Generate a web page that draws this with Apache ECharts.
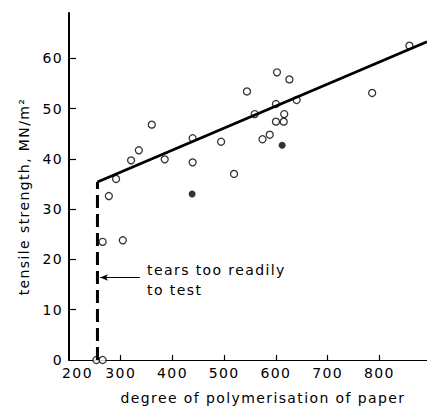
<!DOCTYPE html>
<html>
<head>
<meta charset="utf-8">
<script src="https://cdn.jsdelivr.net/npm/echarts@6/dist/echarts.min.js"></script>
<style>
  html, body { margin: 0; padding: 0; background: #fff; }
  #chart { width: 427px; height: 406px; }
  /* typewriter-like spacing of the original lettering */
  #chart text { letter-spacing: 1.4px; }
</style>
</head>
<body>
<div id="chart"></div>
<script>
// open circles: degree of polymerisation / tensile strength (MN/m2)
const degree = [253, 265, 265, 304, 277, 291, 320, 335, 360, 385, 439, 439, 494, 519, 544,
  559, 574, 588, 602, 600, 600, 615, 616, 626, 640, 786, 858]
const strength = [0, 0, 23.5, 23.8, 32.6, 36.0, 39.7, 41.7, 46.8, 39.9, 44.1, 39.3, 43.4, 37.0, 53.4,
  48.9, 43.9, 44.8, 57.2, 50.9, 47.4, 47.4, 48.9, 55.8, 51.7, 53.1, 62.5]

// filled circles
const filledDegree = [438, 612]
const filledStrength = [33.0, 42.7]

// fitted line: vertical drop (dashed) then rising straight line
const fitX = [255, 255, 892]
const fitY = [0, 35.4, 63.3]

// annotation arrow
const arrowX = [337, 260]
const arrowY = 16.4
const noteX = 351
const noteY = 15.9
const noteText = 'tears too readily\nto test'

const xTicks = [300, 400, 500, 600, 700, 800]
const xLabels = [200, 300, 400, 500, 600, 700, 800]
const yTicks = [10, 20, 30, 40, 50, 60]
const yLabels = [0, 10, 20, 30, 40, 50, 60]

const font = 'DejaVu Sans'
const ink = '#000'

const pairs = (xs, ys) => xs.map((x, i) => [x, ys[i]])

const chart = echarts.init(document.getElementById('chart'), null, { renderer: 'svg' })

chart.setOption({
  animation: false,
  backgroundColor: '#fff',
  textStyle: { fontFamily: font, color: ink },
  grid: { left: 69, right: 0, top: 13, bottom: 46, outerBoundsMode: 'none', containLabel: false },
  xAxis: {
    type: 'value',
    min: 200,
    max: 892,
    name: 'degree of polymerisation of paper',
    nameLocation: 'middle',
    nameGap: 31,
    nameTextStyle: { fontSize: 14, color: ink, fontFamily: font, padding: [0, 0, 0, 30] },
    axisLine: { show: true, lineStyle: { color: ink, width: 1.2 } },
    axisTick: { show: true, inside: true, length: 5, customValues: xTicks, lineStyle: { color: ink, width: 1.2 } },
    axisLabel: {
      customValues: xLabels,
      margin: 6,
      fontSize: 14,
      color: ink,
      fontFamily: font,
      formatter: v => (v === 200 ? '{first|200}' : String(v)),
      rich: { first: { fontSize: 14, fontFamily: font, color: ink, padding: [0, 0, 0, 17] } }
    },
    splitLine: { show: false }
  },
  yAxis: {
    type: 'value',
    min: 0,
    max: 69,
    name: 'tensile strength, MN/m\u00b2',
    nameLocation: 'middle',
    nameGap: 38,
    nameTextStyle: { fontSize: 14, color: ink, fontFamily: font, padding: [0, 20, 0, 0] },
    axisLine: { show: true, lineStyle: { color: ink, width: 2 } },
    axisTick: { show: true, inside: true, length: 7, customValues: yTicks, lineStyle: { color: ink, width: 1.2 } },
    axisLabel: { customValues: yLabels, margin: 6, fontSize: 14, color: ink, fontFamily: font },
    splitLine: { show: false }
  },
  series: [
    {
      type: 'line',
      data: pairs(fitX.slice(0, 2), fitY.slice(0, 2)),
      symbol: 'none',
      lineStyle: { color: ink, width: 3, type: [13, 6], cap: 'butt' },
      markLine: {
        silent: true,
        symbol: ['none', 'arrow'],
        symbolSize: [5, 8],
        label: { show: false },
        lineStyle: { color: ink, width: 1, type: 'solid' },
        data: [[{ coord: [arrowX[0], arrowY] }, { coord: [arrowX[1], arrowY] }]]
      },
      markPoint: {
        silent: true,
        symbolSize: 0,
        data: [{
          coord: [noteX, noteY],
          label: {
            show: true,
            position: [0, 0],
            align: 'left',
            verticalAlign: 'middle',
            formatter: noteText,
            fontSize: 14,
            lineHeight: 20,
            color: ink,
            fontFamily: font
          }
        }]
      }
    },
    {
      type: 'line',
      data: pairs(fitX.slice(1), fitY.slice(1)),
      symbol: 'none',
      lineStyle: { color: ink, width: 2.8 }
    },
    {
      type: 'scatter',
      data: pairs(degree, strength),
      symbol: 'circle',
      symbolSize: 7,
      itemStyle: { color: '#fff', borderColor: ink, borderWidth: 1.3 }
    },
    {
      type: 'scatter',
      data: pairs(filledDegree, filledStrength),
      symbol: 'circle',
      symbolSize: 7,
      itemStyle: { color: ink }
    }
  ]
})
</script>
</body>
</html>
